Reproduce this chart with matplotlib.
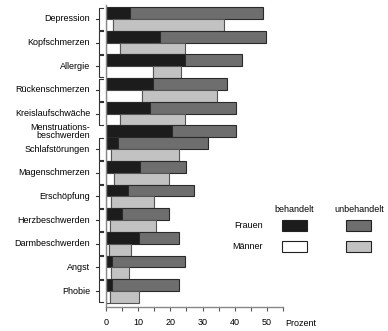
import numpy as np
import matplotlib
matplotlib.use("Agg")
import matplotlib.pyplot as plt
from matplotlib.patches import Rectangle

plt.rcParams.update({"font.family": ["Liberation Sans", "DejaVu Sans"], "font.size": 6.5})

categories = ["Depression", "Kopfschmerzen", "Allergie", "Rückenschmerzen",
              "Kreislaufschwäche", "Menstruations-\nbeschwerden", "Schlafstörungen",
              "Magenschmerzen", "Erschöpfung", "Herzbeschwerden", "Darmbeschwerden",
              "Angst", "Phobie"]
frauen_beh   = [7.6, 16.9, 24.5, 14.6, 13.6, 20.6, 3.6, 10.5, 6.7, 4.9, 10.3, 1.8, 1.8]
frauen_unbeh = [41.3, 32.8, 17.9, 23.1, 26.8, 19.8, 28.1, 14.5, 20.6, 14.6, 12.3, 22.6, 20.8]
maenner_beh   = [2.1, 4.4, 14.6, 11.2, 4.4, np.nan, 1.5, 2.5, 1.5, 1.1, 0.9, 1.5, 1.1]
maenner_unbeh = [34.7, 20.0, 8.8, 23.2, 20.3, np.nan, 21.1, 17.0, 13.3, 14.5, 6.8, 5.6, 9.1]

C_FB, C_FU, C_MB, C_MU = "#1c1c1c", "#6e6e6e", "#ffffff", "#c2c2c2"
EDGE = "#2a2a2a"

W, H = 388, 331
fig = plt.figure(figsize=(W / 100, H / 100), dpi=100)
ax = fig.add_axes([106 / W, 1 - 307 / H, (283 - 106) / W, (307 - 5) / H])

# slot positions (Frauen then Männer, Männer skipped if missing)
pos = 0
label_y = []
groups = []
for i in range(len(categories)):
    yf = -pos
    ax.barh(yf, frauen_beh[i], height=1, color=C_FB, edgecolor=EDGE, lw=0.8)
    ax.barh(yf, frauen_unbeh[i], left=frauen_beh[i], height=1, color=C_FU,
            edgecolor=EDGE, lw=0.8)
    pos += 1
    if not np.isnan(maenner_beh[i]):
        ym = -pos
        ax.barh(ym, maenner_beh[i], height=1, color=C_MB, edgecolor="#444444", lw=0.8)
        ax.barh(ym, maenner_unbeh[i], left=maenner_beh[i], height=1, color=C_MU,
                edgecolor="#555555", lw=0.8)
        pos += 1
        label_y.append((yf + ym) / 2)
        groups.append((yf + 0.5, ym - 0.5))
    else:
        label_y.append(yf)
        groups.append(None)

ax.set_xlim(0, 55)
ax.set_ylim(-pos + 0.5 - 0.35, 0.5 + 0.17)

for s in ["top", "right"]:
    ax.spines[s].set_visible(False)
for s in ["left", "bottom"]:
    ax.spines[s].set_color("#888888")
    ax.spines[s].set_linewidth(1.0)

ax.set_xticks([0, 10, 20, 30, 40, 50])
ax.set_xticks([5, 15, 25, 35, 45, 55], minor=True)
ax.tick_params(axis="x", which="both", direction="out", length=3, width=0.8,
               color="#555555", pad=5, labelsize=6.5)
ax.set_yticks([])

# category labels and brackets
tr = ax.get_yaxis_transform()
for name, yl, g in zip(categories, label_y, groups):
    ax.text(-0.09, yl, name, transform=tr, ha="right", va="center",
            multialignment="right", fontsize=6.5, linespacing=0.9)
    if g is not None:
        top, bot = g
        xb, xr, xl = -0.038, -0.016, -0.058
        ax.plot([xr, xb, xb, xr], [top - 0.05, top - 0.05, bot + 0.05, bot + 0.05],
                transform=tr, color="#333333", lw=0.8, clip_on=False)
        ax.plot([xl, xb], [yl, yl], transform=tr, color="#333333", lw=0.8, clip_on=False)

fig.text(285 / W, 1 - 323 / H, "Prozent", ha="left", va="center", fontsize=6.5)

# legend
def box(x, y, c):
    fig.add_artist(Rectangle((x / W, 1 - (y + 11) / H), 25 / W, 11 / H,
                             transform=fig.transFigure, facecolor=c,
                             edgecolor="#222222", lw=0.8))

fig.text(294 / W, 1 - 210 / H, "behandelt", ha="center", va="center", fontsize=6.5)
fig.text(359 / W, 1 - 210 / H, "unbehandelt", ha="center", va="center", fontsize=6.5)
fig.text(263 / W, 1 - 225 / H, "Frauen", ha="right", va="center", fontsize=6.5)
fig.text(263 / W, 1 - 246.5 / H, "Männer", ha="right", va="center", fontsize=6.5)
box(282, 219.5, C_FB)
box(346, 219.5, C_FU)
box(282, 241, C_MB)
box(346, 241, C_MU)

fig.savefig("out.png", dpi=100)
